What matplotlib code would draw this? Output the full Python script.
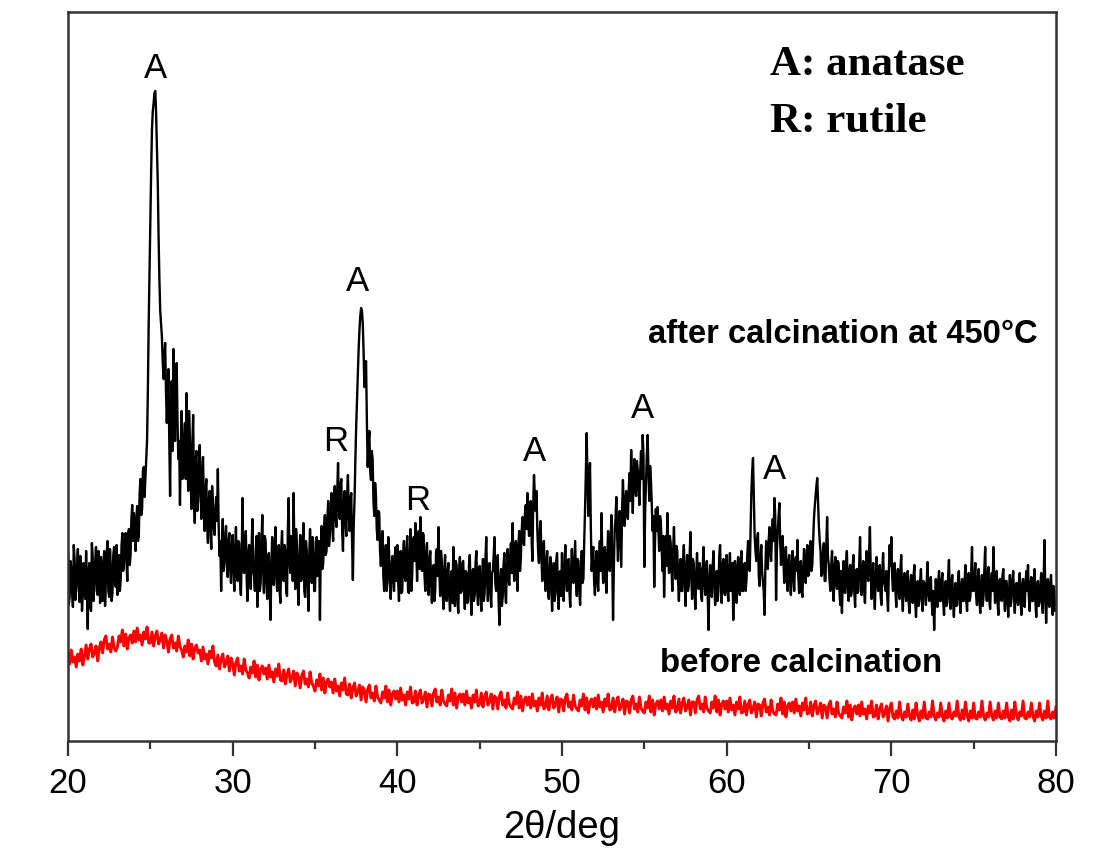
import numpy as np
import matplotlib
matplotlib.use("Agg")
import matplotlib.pyplot as plt

# 2-theta scan grid (deg)
scan_start, scan_stop = 20.0, 80.0
after_step = 0.05
before_step = 0.1

# Intensity (a.u.) after calcination at 450 C, one row per degree (x.00 ... x.95), then 80.0
after_calc = [
    188, 136, 144, 180, 172, 150, 134, 196, 182, 141, 152, 176, 192, 158, 139, 185, 169, 130, 148, 178,  # 20
    156, 142, 190, 150, 112, 170, 178, 136, 130, 198, 184, 140, 160, 178, 194, 150, 146, 190, 174, 138,  # 21
    184, 150, 140, 178, 190, 135, 158, 188, 200, 150, 144, 192, 174, 140, 148, 186, 194, 160, 154, 196,  # 22
    146, 176, 186, 150, 161, 195, 208, 170, 177, 200, 208, 182, 160, 206, 212, 176, 186, 222, 236, 200,  # 23
    228, 212, 190, 222, 235, 200, 205, 248, 262, 226, 232, 270, 274, 244, 262, 280, 300, 350, 418, 470,  # 24
    520, 570, 612, 630, 638, 648, 650, 628, 596, 560, 505, 462, 430, 418, 405, 380, 362, 385, 398, 350,  # 25
    318, 345, 372, 300, 245, 330, 360, 290, 392, 352, 300, 365, 378, 320, 282, 300, 236, 295, 330, 262,  # 26
    270, 300, 318, 262, 348, 290, 250, 330, 305, 260, 232, 295, 326, 250, 218, 280, 290, 230, 240, 275,  # 27
    296, 250, 222, 268, 284, 236, 210, 250, 262, 215, 198, 240, 250, 212, 192, 255, 238, 215, 206, 232,  # 28
    244, 220, 272, 215, 185, 200, 150, 195, 222, 170, 176, 205, 215, 180, 164, 200, 208, 172, 158, 195,  # 29
    206, 172, 150, 190, 214, 165, 160, 200, 198, 158, 146, 185, 243, 170, 168, 196, 210, 162, 140, 188,  # 30
    196, 165, 152, 195, 222, 170, 165, 150, 190, 205, 134, 176, 208, 150, 158, 198, 226, 172, 148, 205,  # 31
    200, 160, 142, 182, 188, 150, 121, 175, 204, 168, 156, 190, 214, 166, 150, 184, 196, 150, 138, 192,  # 32
    210, 170, 160, 196, 190, 150, 145, 210, 243, 180, 168, 205, 200, 160, 248, 190, 152, 212, 196, 158,  # 33
    136, 182, 206, 160, 162, 195, 218, 150, 144, 200, 190, 158, 130, 185, 212, 170, 158, 204, 198, 150,  # 34
    150, 185, 204, 165, 168, 200, 121, 190, 215, 172, 178, 212, 226, 186, 190, 222, 240, 195, 205, 230,  # 35
    248, 215, 200, 240, 255, 226, 214, 250, 278, 235, 222, 256, 262, 210, 190, 238, 250, 222, 205, 245,  # 36
    266, 228, 210, 240, 248, 200, 161, 215, 240, 280, 314, 340, 365, 392, 411, 425, 433, 430, 418, 390,  # 37
    354, 370, 380, 320, 274, 295, 310, 270, 261, 290, 282, 240, 225, 258, 246, 212, 201, 230, 228, 190,  # 38
    175, 195, 210, 165, 150, 182, 196, 150, 160, 204, 188, 158, 142, 175, 185, 165, 150, 186, 194, 160,  # 39
    196, 160, 140, 178, 190, 148, 150, 186, 200, 165, 160, 190, 205, 150, 148, 185, 212, 150, 165, 198,  # 40
    204, 180, 218, 192, 160, 195, 210, 172, 224, 200, 170, 208, 206, 165, 150, 185, 198, 162, 146, 180,  # 41
    190, 158, 138, 172, 176, 140, 150, 188, 192, 165, 214, 170, 145, 190, 180, 150, 132, 170, 186, 145,  # 42
    140, 168, 178, 145, 130, 160, 170, 138, 194, 160, 135, 180, 176, 142, 128, 170, 184, 148, 150, 178,  # 43
    180, 150, 132, 170, 168, 138, 140, 175, 186, 150, 126, 168, 172, 140, 146, 178, 190, 150, 136, 170,  # 44
    175, 148, 130, 165, 182, 140, 148, 180, 204, 160, 140, 172, 178, 150, 134, 168, 170, 185, 204, 158,  # 45
    150, 170, 186, 140, 116, 160, 172, 135, 144, 176, 188, 150, 138, 175, 192, 162, 156, 185, 198, 168,  # 46
    218, 178, 160, 190, 200, 172, 150, 195, 210, 170, 182, 210, 224, 200, 196, 228, 236, 212, 248, 220,  # 47
    205, 228, 240, 205, 180, 235, 266, 245, 230, 250, 212, 190, 178, 210, 220, 185, 160, 195, 200, 170,  # 48
    150, 176, 190, 150, 142, 170, 184, 155, 130, 165, 178, 140, 148, 180, 188, 150, 132, 168, 170, 145,  # 49
    188, 155, 140, 172, 196, 165, 150, 180, 182, 150, 134, 170, 192, 160, 158, 178, 200, 160, 145, 182,  # 50
    180, 150, 136, 170, 190, 158, 162, 200, 232, 270, 308, 260, 225, 250, 278, 215, 170, 185, 194, 160,  # 51
    146, 175, 190, 160, 150, 185, 200, 170, 228, 180, 158, 190, 194, 165, 148, 185, 210, 175, 170, 200,  # 52
    226, 180, 121, 175, 212, 222, 244, 205, 180, 215, 230, 200, 174, 232, 261, 236, 215, 240, 250, 228,  # 53
    222, 250, 268, 240, 291, 260, 228, 265, 282, 250, 245, 280, 271, 252, 236, 270, 290, 262, 306, 285,  # 54
    174, 230, 258, 285, 306, 270, 240, 275, 261, 238, 210, 225, 154, 200, 232, 210, 234, 215, 190, 225,  # 55
    220, 195, 170, 205, 144, 180, 205, 175, 228, 190, 168, 205, 198, 172, 150, 190, 214, 180, 162, 195,  # 56
    190, 160, 140, 175, 182, 150, 150, 178, 196, 160, 135, 172, 186, 150, 156, 185, 209, 165, 142, 182,  # 57
    178, 150, 132, 165, 188, 160, 152, 178, 172, 145, 140, 175, 194, 158, 146, 172, 180, 145, 111, 160,  # 58
    176, 152, 144, 175, 190, 160, 136, 168, 170, 140, 150, 185, 196, 160, 138, 175, 182, 150, 146, 180,  # 59
    186, 150, 140, 172, 188, 150, 152, 178, 121, 160, 180, 150, 138, 175, 184, 155, 146, 178, 190, 150,  # 60
    150, 172, 178, 150, 160, 185, 200, 175, 170, 210, 248, 270, 283, 245, 205, 190, 180, 200, 208, 165,  # 61
    155, 180, 196, 170, 160, 150, 126, 172, 200, 180, 172, 200, 214, 190, 180, 205, 222, 200, 243, 225,  # 62
    141, 190, 210, 225, 238, 200, 176, 195, 205, 178, 158, 185, 194, 165, 150, 178, 186, 160, 146, 175,  # 63
    190, 165, 150, 178, 184, 170, 201, 165, 148, 175, 180, 150, 144, 172, 192, 160, 158, 185, 196, 165,  # 64
    168, 190, 200, 170, 176, 200, 222, 235, 245, 255, 263, 240, 215, 200, 190, 165, 168, 188, 198, 160,  # 65
    160, 195, 224, 185, 176, 160, 150, 175, 190, 160, 140, 172, 184, 160, 152, 180, 178, 150, 136, 170,  # 66
    128, 160, 180, 150, 148, 176, 190, 155, 140, 170, 176, 145, 150, 175, 186, 150, 134, 165, 172, 148,  # 67
    150, 178, 204, 165, 146, 170, 180, 150, 138, 172, 190, 165, 160, 190, 214, 170, 142, 165, 178, 150,  # 68
    132, 165, 184, 160, 150, 172, 176, 145, 136, 168, 188, 160, 156, 150, 170, 145, 130, 170, 196, 175,  # 69
    204, 165, 150, 170, 178, 150, 134, 165, 172, 150, 142, 170, 186, 150, 130, 162, 168, 148, 140, 165,  # 70
    170, 140, 128, 155, 166, 145, 138, 165, 176, 140, 124, 155, 160, 135, 142, 160, 172, 140, 130, 160,  # 71
    158, 150, 136, 160, 179, 148, 140, 155, 164, 140, 126, 150, 111, 140, 162, 145, 134, 160, 170, 140,  # 72
    140, 160, 168, 140, 126, 150, 160, 135, 138, 165, 181, 145, 132, 158, 166, 140, 124, 150, 158, 135,  # 73
    136, 160, 170, 145, 128, 155, 162, 140, 140, 160, 176, 140, 130, 158, 168, 140, 144, 170, 194, 150,  # 74
    150, 165, 178, 145, 136, 160, 172, 140, 128, 155, 166, 135, 145, 172, 194, 150, 140, 165, 174, 140,  # 75
    132, 158, 168, 150, 194, 160, 138, 165, 170, 140, 126, 160, 162, 145, 140, 165, 172, 145, 130, 160,  # 76
    160, 140, 124, 150, 166, 135, 142, 160, 170, 145, 128, 155, 158, 140, 136, 160, 168, 140, 126, 155,  # 77
    162, 145, 134, 158, 170, 150, 176, 145, 130, 155, 164, 140, 140, 158, 172, 140, 124, 150, 160, 135,  # 78
    138, 155, 168, 140, 128, 160, 201, 150, 118, 145, 162, 140, 134, 158, 166, 140, 126, 155, 150, 130,  # 79
    140,                                                                                                 # 80
]

# Intensity (a.u.) before calcination, one row per degree (x.0 ... x.9), then 80.0
before_calc = [
    88, 77, 91, 79, 84, 74, 87, 80, 92, 76,          # 20
    85, 96, 82, 92, 97, 84, 88, 95, 80, 93,          # 21
    99, 88, 101, 105, 92, 97, 89, 104, 93, 90,       # 22
    94, 105, 99, 111, 95, 107, 92, 103, 106, 98,     # 23
    110, 99, 113, 101, 106, 96, 109, 102, 114, 98,   # 24
    98, 109, 95, 105, 110, 97, 101, 108, 93, 106,    # 25
    100, 89, 102, 106, 93, 98, 90, 105, 94, 91,      # 26
    84, 95, 89, 101, 85, 97, 82, 93, 96, 88,         # 27
    91, 80, 94, 82, 87, 77, 90, 83, 95, 79,          # 28
    75, 86, 72, 82, 87, 74, 78, 85, 70, 83,          # 29
    77, 66, 79, 83, 70, 75, 67, 82, 71, 68,          # 30
    63, 74, 68, 80, 64, 76, 61, 72, 75, 67,          # 31
    73, 62, 76, 64, 69, 59, 72, 65, 77, 61,          # 32
    60, 71, 57, 67, 72, 59, 63, 70, 55, 68,          # 33
    64, 53, 66, 70, 57, 62, 54, 69, 58, 55,          # 34
    50, 61, 55, 67, 51, 63, 48, 59, 62, 54,          # 35
    59, 48, 62, 50, 55, 45, 58, 51, 63, 47,          # 36
    46, 57, 43, 53, 58, 45, 49, 56, 41, 54,          # 37
    50, 39, 52, 56, 43, 48, 40, 55, 44, 41,          # 38
    38, 49, 43, 55, 39, 51, 36, 47, 50, 42,          # 39
    50, 39, 53, 41, 46, 36, 49, 42, 54, 38,          # 40
    39, 50, 36, 46, 51, 38, 42, 49, 34, 47,          # 41
    46, 35, 48, 52, 39, 44, 36, 51, 40, 37,          # 42
    35, 46, 40, 52, 36, 48, 33, 44, 47, 39,          # 43
    47, 36, 50, 38, 43, 33, 46, 39, 51, 35,          # 44
    37, 48, 34, 44, 49, 36, 40, 47, 32, 45,          # 45
    43, 32, 45, 49, 36, 41, 33, 48, 37, 34,          # 46
    32, 43, 37, 49, 33, 45, 30, 41, 44, 36,          # 47
    44, 33, 47, 35, 40, 30, 43, 36, 48, 32,          # 48
    34, 45, 31, 41, 46, 33, 37, 44, 29, 42,          # 49
    41, 30, 43, 47, 34, 39, 31, 46, 35, 32,          # 50
    30, 41, 35, 47, 31, 43, 28, 39, 42, 34,          # 51
    43, 32, 46, 34, 39, 29, 42, 35, 47, 31,          # 52
    32, 43, 29, 39, 44, 31, 35, 42, 27, 40,          # 53
    39, 28, 41, 45, 32, 37, 29, 44, 33, 30,          # 54
    28, 39, 33, 45, 29, 41, 26, 37, 40, 32,          # 55
    41, 30, 44, 32, 37, 27, 40, 33, 45, 29,          # 56
    31, 42, 28, 38, 43, 30, 34, 41, 26, 39,          # 57
    39, 28, 41, 45, 32, 37, 29, 44, 33, 30,          # 58
    28, 39, 33, 45, 29, 41, 26, 37, 40, 32,          # 59
    40, 29, 43, 31, 36, 26, 39, 32, 44, 28,          # 60
    29, 40, 26, 36, 41, 28, 32, 39, 24, 37,          # 61
    36, 25, 38, 42, 29, 34, 26, 41, 30, 27,          # 62
    26, 37, 31, 43, 27, 39, 24, 35, 38, 30,          # 63
    39, 28, 42, 30, 35, 25, 38, 31, 43, 27,          # 64
    28, 39, 25, 35, 40, 27, 31, 38, 23, 36,          # 65
    34, 23, 36, 40, 27, 32, 24, 39, 28, 25,          # 66
    23, 34, 28, 40, 24, 36, 21, 32, 35, 27,          # 67
    36, 25, 39, 27, 32, 22, 35, 28, 40, 24,          # 68
    25, 36, 22, 32, 37, 24, 28, 35, 20, 33,          # 69
    38, 24, 22, 30, 23, 39, 25, 21, 29, 24,          # 70
    37, 25, 21, 31, 22, 38, 26, 20, 30, 23,          # 71
    39, 23, 22, 29, 24, 40, 25, 21, 28, 24,          # 72
    38, 25, 20, 30, 23, 38, 24, 22, 29, 25,          # 73
    40, 24, 21, 31, 22, 39, 26, 20, 30, 23,          # 74
    38, 23, 22, 29, 24, 40, 25, 21, 28, 24,          # 75
    39, 25, 21, 30, 23, 38, 24, 22, 30, 23,          # 76
    38, 24, 20, 31, 22, 39, 26, 21, 29, 25,          # 77
    40, 23, 22, 29, 24, 38, 25, 20, 30, 24,          # 78
    38, 25, 21, 30, 23, 40, 24, 22, 29, 23,          # 79
    34,                                              # 80
]

# Peak markers (phase, 2theta, label height)
peak_labels = ["A", "A", "R", "R", "A", "A", "A"]
peak_pos = [25.34, 37.61, 36.28, 41.25, 48.30, 54.86, 62.93]
peak_lab_y = [673, 460, 300, 241, 290, 333, 272]

x_ticks = [20, 30, 40, 50, 60, 70, 80]
x_minor = [25, 35, 45, 55, 65, 75]

x_after = np.round(np.arange(len(after_calc)) * after_step + scan_start, 3)
x_before = np.round(np.arange(len(before_calc)) * before_step + scan_start, 3)

sans = ["Liberation Sans", "DejaVu Sans"]
serif = ["Liberation Serif", "DejaVu Serif"]

fig = plt.figure(figsize=(11.12, 8.49), dpi=100)
ax = fig.add_axes([68 / 1112, 108 / 849, 988 / 1112, 729 / 849])

ax.plot(x_after, after_calc, color="black", lw=1.7)
ax.plot(x_before, before_calc, color="#ff0000", lw=2.1)

ax.set_xlim(scan_start, scan_stop)
ax.set_ylim(0, 729)
ax.set_yticks([])
ax.set_xticks(x_ticks)
ax.set_xticks(x_minor, minor=True)
ax.tick_params(axis="x", which="major", direction="out", length=11, width=1.6,
               labelsize=25, pad=8, color="#333333")
ax.tick_params(axis="x", which="minor", direction="out", length=6, width=1.6,
               color="#333333")
for lab in ax.get_xticklabels():
    lab.set_family(sans)
for sp in ax.spines.values():
    sp.set_linewidth(1.8)
    sp.set_color("#333333")

ax.set_xlabel("2θ/deg", family=sans, fontsize=27.5, labelpad=7)

for lab, px, py in zip(peak_labels, peak_pos, peak_lab_y):
    ax.text(px, py, lab, family=sans, fontsize=25, ha="center", va="center")

ax.text(62.63, 676, "A: anatase", family=serif, fontweight="bold", fontsize=31,
        ha="left", va="center")
ax.text(62.63, 619, "R: rutile", family=serif, fontweight="bold", fontsize=31,
        ha="left", va="center")
ax.text(55.22, 407, "after calcination at 450°C", family=sans, fontweight="bold",
        fontsize=23.6, ha="left", va="center")
ax.text(55.95, 78, "before calcination", family=sans, fontweight="bold",
        fontsize=23.8, ha="left", va="center")

fig.savefig("out.png", dpi=100, facecolor="white")
